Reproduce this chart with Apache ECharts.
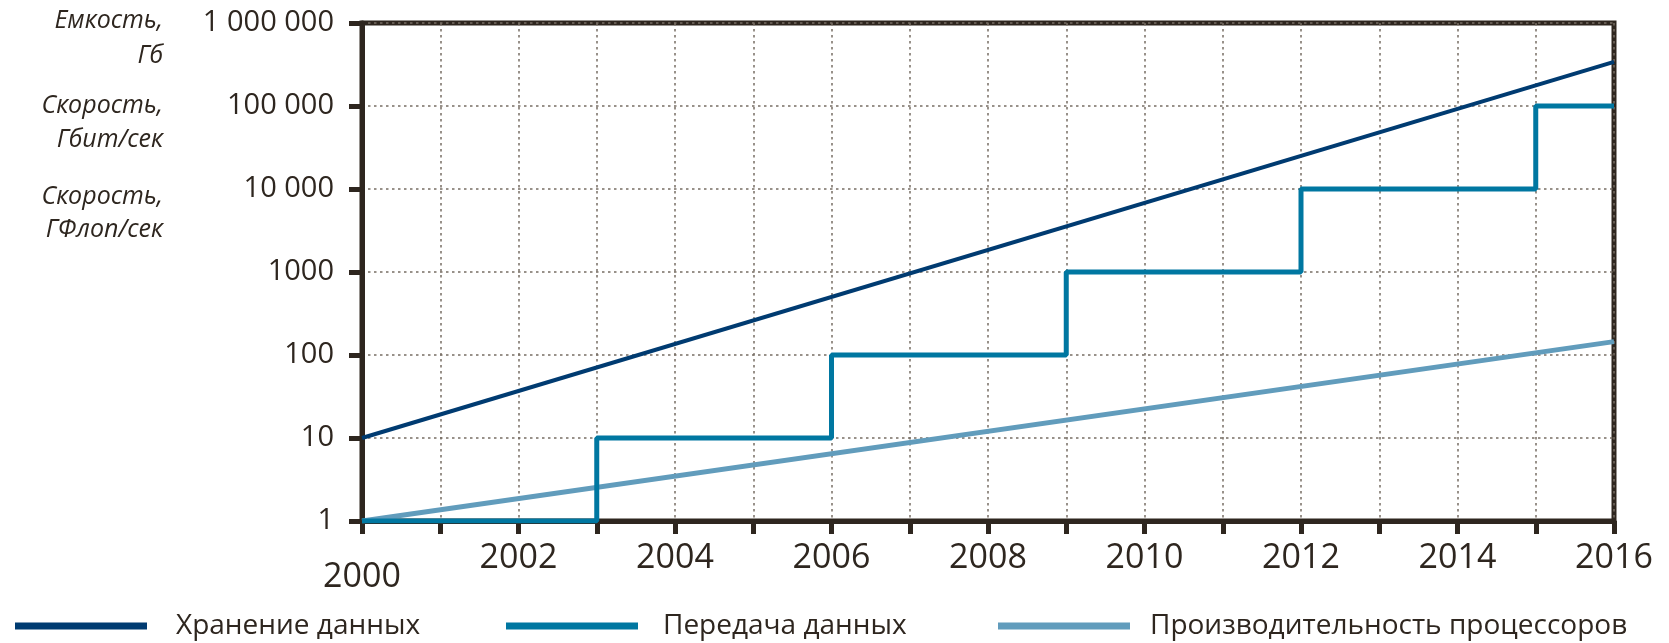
<!DOCTYPE html>
<html>
<head>
<meta charset="utf-8">
<script src="https://cdn.jsdelivr.net/npm/echarts@6/dist/echarts.min.js"></script>
<style>
  html, body { margin: 0; padding: 0; background: #fff; }
  #chart { width: 1669px; height: 643px; }
</style>
</head>
<body>
<div id="chart"></div>
<script>
// Данные
const seriesNames = ['Хранение данных', 'Передача данных', 'Производительность процессоров'];
const storage = [[2000, 10], [2016, 340000]];
const transfer = [[2000, 1], [2003, 10], [2006, 100], [2009, 1000], [2012, 10000], [2015, 100000], [2016, 100000]];
const processors = [[2000, 1], [2016, 145]];
const yTickLabels = ['1', '10', '100', '1000', '10 000', '100 000', '1 000 000'];
const xLabelYears = [2000, 2002, 2004, 2006, 2008, 2010, 2012, 2014, 2016];
const yTitleLines = ['Емкость,', 'Гб', 'Скорость,', 'Гбит/сек', 'Скорость,', 'ГФлоп/сек'];

const dark = '#2e261f';
const colors = ['#003b71', '#0077a1', '#619cbc'];
const font = 'Open Sans';

const chart = echarts.init(document.getElementById('chart'));

// отдельная легенда для каждой серии, чтобы разложить их по ширине
const legendPos = [
  { left: 10, pad: 24 },
  { left: 501, pad: 20 },
  { left: 993, pad: 15 }
];
const titleY = [21, 56, 106, 140, 197, 230];

chart.setOption({
  animation: false,
  textStyle: { fontFamily: font },
  grid: {
    left: 362, right: 55, top: 23, bottom: 122,
    show: true, borderColor: dark, borderWidth: 5
  },
  legend: seriesNames.map((name, i) => ({
    data: [name],
    left: legendPos[i].left,
    top: 605,
    icon: 'rect',
    itemWidth: 132,
    itemHeight: 7,
    textStyle: {
      fontFamily: font, fontSize: 28, color: dark,
      lineHeight: 32, padding: [0, 0, 0, legendPos[i].pad]
    }
  })),
  graphic: yTitleLines.map((t, i) => ({
    type: 'text',
    x: 163,
    y: titleY[i],
    style: {
      text: t, font: 'italic 25px "Open Sans"', fill: dark,
      align: 'right', verticalAlign: 'middle'
    }
  })),
  xAxis: {
    type: 'value',
    min: 2000,
    max: 2016,
    interval: 1,
    axisLine: { show: true, lineStyle: { color: dark, width: 5 } },
    axisTick: { show: true, length: 13, lineStyle: { color: dark, width: 5 } },
    axisLabel: {
      margin: 20,
      fontSize: 34,
      color: dark,
      showMinLabel: true,
      showMaxLabel: true,
      formatter: (v) => {
        if (xLabelYears.indexOf(v) < 0) return '';
        return v === xLabelYears[0] ? '{low|' + v + '}' : String(v);
      },
      rich: { low: { fontSize: 34, fontFamily: font, color: dark, lineHeight: 72 } }
    },
    splitLine: { show: true, lineStyle: { color: '#776d64', width: 1.5, type: [2.5, 3.5] } }
  },
  yAxis: {
    type: 'log',
    logBase: 10,
    min: 1,
    max: 1000000,
    axisLine: { show: true, lineStyle: { color: dark, width: 5 } },
    axisTick: { show: true, length: 13, lineStyle: { color: dark, width: 5 } },
    axisLabel: {
      margin: 28,
      fontSize: 29,
      color: dark,
      formatter: (v) => yTickLabels[Math.round(Math.log10(v))]
    },
    splitLine: { show: true, lineStyle: { color: '#776d64', width: 1.5, type: [2.5, 3.5] } }
  },
  series: [
    {
      name: seriesNames[0], type: 'line', data: storage, showSymbol: false,
      lineStyle: { color: colors[0], width: 4 }, itemStyle: { color: colors[0] }, z: 4
    },
    {
      name: seriesNames[1], type: 'line', data: transfer, step: 'end', showSymbol: false,
      lineStyle: { color: colors[1], width: 5 }, itemStyle: { color: colors[1] }, z: 3
    },
    {
      name: seriesNames[2], type: 'line', data: processors, showSymbol: false,
      lineStyle: { color: colors[2], width: 5 }, itemStyle: { color: colors[2] }, z: 2
    }
  ]
});
</script>
</body>
</html>
